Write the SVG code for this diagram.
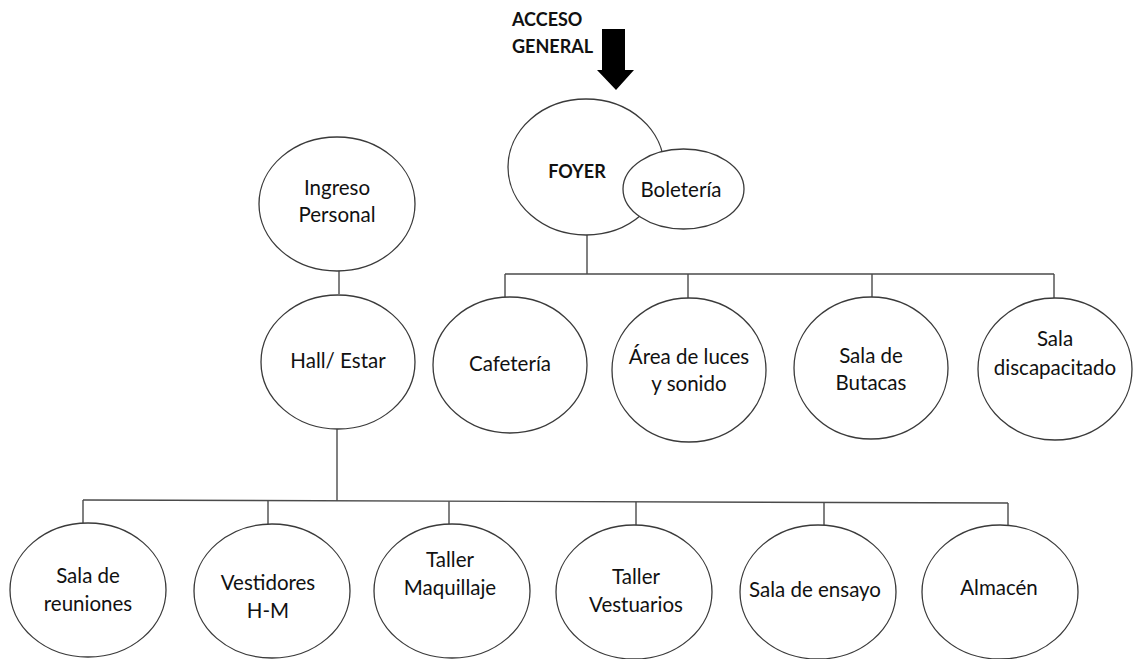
<svg xmlns="http://www.w3.org/2000/svg" width="1137" height="659" viewBox="0 0 1137 659">
<style>
.n{fill:#fff;stroke:#3a3a3a;stroke-width:1.3}
.c{fill:none;stroke:#4a4a4a;stroke-width:1.4}
.t{font-family:Lato,"Open Sans","Liberation Sans",sans-serif;font-size:20.5px;fill:#111;text-anchor:middle}
.b{font-family:Lato,"Open Sans","Liberation Sans",sans-serif;font-size:18px;font-weight:bold;fill:#111}
</style>
<rect width="1137" height="659" fill="#fff"/>
<g id="acceso">
<text class="b" x="512" y="26">ACCESO</text>
<text class="b" x="512" y="53">GENERAL</text>
<polygon points="602,29 625,29 625,70 634,70 616,90 597,70 602,70" fill="#000"/>
</g>
<g id="connectors">
<line class="c" x1="339" y1="271" x2="339" y2="294"/>
<line class="c" x1="337" y1="429" x2="337" y2="501"/>
<line class="c" x1="83" y1="500" x2="1008" y2="503"/>
<line class="c" x1="83" y1="500" x2="83" y2="523"/>
<line class="c" x1="268" y1="500.6" x2="268" y2="524"/>
<line class="c" x1="449" y1="501.2" x2="449" y2="524"/>
<line class="c" x1="636" y1="501.8" x2="636" y2="525"/>
<line class="c" x1="824" y1="502.4" x2="824" y2="525"/>
<line class="c" x1="1008" y1="503" x2="1008" y2="525"/>
<line class="c" x1="587" y1="235" x2="587" y2="274"/>
<line class="c" x1="505" y1="274" x2="1054" y2="274"/>
<line class="c" x1="505" y1="274" x2="505" y2="297"/>
<line class="c" x1="688" y1="274" x2="688" y2="299"/>
<line class="c" x1="872" y1="274" x2="872" y2="297"/>
<line class="c" x1="1054" y1="274" x2="1054" y2="298"/>
</g>
<g id="foyer">
<ellipse class="n" cx="586" cy="167" rx="78" ry="68"/>
<text class="b" x="577" y="178" text-anchor="middle" font-size="19">FOYER</text>
</g>
<g id="boleteria">
<ellipse class="n" cx="683.5" cy="189" rx="60.5" ry="40"/>
<text class="t" x="681" y="197">Boletería</text>
</g>
<g id="ingreso-personal">
<ellipse class="n" cx="337" cy="204" rx="78" ry="67"/>
<text class="t" x="337" y="195">Ingreso</text>
<text class="t" x="337" y="222">Personal</text>
</g>
<g id="hall-estar">
<ellipse class="n" cx="338" cy="362" rx="77" ry="67"/>
<text class="t" x="338" y="368">Hall/ Estar</text>
</g>
<g id="cafeteria">
<ellipse class="n" cx="510" cy="365" rx="77" ry="68"/>
<text class="t" x="510" y="371">Cafetería</text>
</g>
<g id="area-luces">
<ellipse class="n" cx="689" cy="370" rx="77" ry="72"/>
<text class="t" x="689" y="364">Área de luces</text>
<text class="t" x="689" y="391">y sonido</text>
</g>
<g id="sala-butacas">
<ellipse class="n" cx="871" cy="368" rx="77" ry="71"/>
<text class="t" x="871" y="363">Sala de</text>
<text class="t" x="871" y="390">Butacas</text>
</g>
<g id="sala-discapacitado">
<ellipse class="n" cx="1055" cy="369" rx="77" ry="71"/>
<text class="t" x="1055" y="346">Sala</text>
<text class="t" x="1055" y="375">discapacitado</text>
</g>
<g id="sala-reuniones">
<ellipse class="n" cx="88" cy="590" rx="78" ry="67"/>
<text class="t" x="88" y="583">Sala de</text>
<text class="t" x="88" y="611">reuniones</text>
</g>
<g id="vestidores">
<ellipse class="n" cx="272" cy="591" rx="78" ry="67"/>
<text class="t" x="268" y="590">Vestidores</text>
<text class="t" x="268" y="618">H-M</text>
</g>
<g id="taller-maquillaje">
<ellipse class="n" cx="452" cy="591" rx="78" ry="67"/>
<text class="t" x="450" y="567">Taller</text>
<text class="t" x="450" y="595">Maquillaje</text>
</g>
<g id="taller-vestuarios">
<ellipse class="n" cx="634" cy="592" rx="78" ry="67"/>
<text class="t" x="636" y="584">Taller</text>
<text class="t" x="636" y="612">Vestuarios</text>
</g>
<g id="sala-ensayo">
<ellipse class="n" cx="818" cy="592" rx="78" ry="67"/>
<text class="t" x="815" y="597">Sala de ensayo</text>
</g>
<g id="almacen">
<ellipse class="n" cx="1000" cy="592" rx="78" ry="67"/>
<text class="t" x="999" y="595">Almacén</text>
</g>
</svg>
